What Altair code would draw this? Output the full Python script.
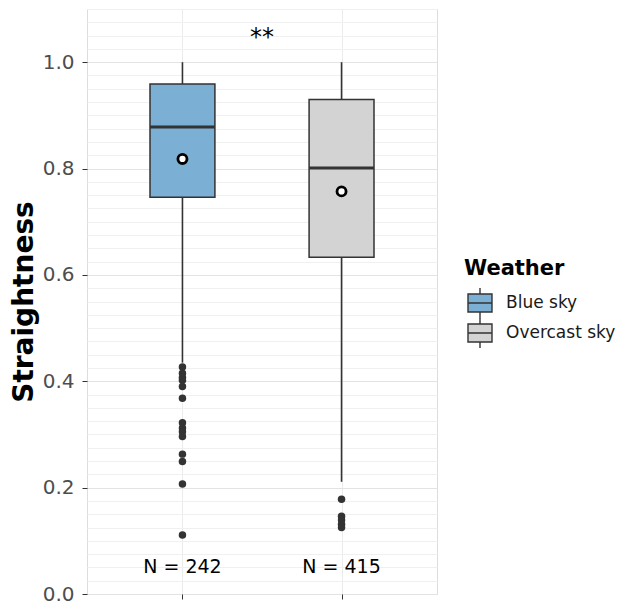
import altair as alt
import pandas as pd

# ---- data ----
weather = ["Blue sky", "Overcast sky"]
positions = [1, 2]
whisker_low = [0.435, 0.211]
q1 = [0.746, 0.633]
median = [0.878, 0.801]
q3 = [0.959, 0.930]
whisker_high = [1.0, 1.0]
means = [0.818, 0.757]
n_obs = [242, 415]
outliers_blue = [0.427, 0.415, 0.407, 0.402, 0.390, 0.368, 0.322, 0.312,
                 0.305, 0.296, 0.263, 0.249, 0.207, 0.111]
outliers_overcast = [0.178, 0.146, 0.139, 0.131, 0.125]
signif_label = "**"
y_ticks = [round(i * 0.025, 3) for i in range(0, 45)]
x_ticks = positions
colors = ["#7BAFD4", "#D3D3D3"]

FONT = "DejaVu Sans"
HALF = 0.204

stats = pd.DataFrame({
    "weather": weather, "pos": positions, "lo": whisker_low, "q1": q1,
    "median": median, "q3": q3, "hi": whisker_high, "mean": means,
    "label": [f"N = {n}" for n in n_obs],
})
out = pd.DataFrame({
    "pos": [positions[0]] * len(outliers_blue) + [positions[1]] * len(outliers_overcast),
    "value": outliers_blue + outliers_overcast,
})
sig = pd.DataFrame({"pos": [sum(positions) / 2], "y": [1.045], "label": [signif_label]})

major = "abs(datum.value * 5 - round(datum.value * 5)) < 0.001"

xscale = alt.Scale(domain=[0.4, 2.6], nice=False, zero=False)
yscale = alt.Scale(domain=[0, 1.1], nice=False, zero=False)

xaxis = alt.Axis(values=x_ticks, labels=False, title=None, domain=False,
                 tickSize=5, tickColor="#333333", tickWidth=1,
                 grid=True, gridColor="#EBEBEB", gridWidth=1)
yaxis = alt.Axis(values=y_ticks, title="Straightness", domain=False,
                 labelExpr=f"{major} ? format(datum.value, '.1f') : ''",
                 labelOverlap=False, labelFontSize=20, labelColor="#4D4D4D",
                 labelFont=FONT, labelPadding=8,
                 tickSize=5, tickColor="#333333", tickWidth=1,
                 tickOpacity={"condition": {"test": major, "value": 1}, "value": 0},
                 grid=True,
                 gridColor={"condition": {"test": major, "value": "#E3E3E3"}, "value": "#F0F0F0"},
                 gridWidth=1,
                 titleFontSize=28, titleFontWeight="bold", titleColor="#000000",
                 titleFont=FONT, titlePadding=4)


def X(field):
    return alt.X(field, scale=xscale, axis=xaxis)


def Y(field):
    return alt.Y(field, scale=yscale, axis=yaxis)


base = alt.Chart(stats)

whisk_hi = base.mark_rule(color="#333333", strokeWidth=1.6).encode(
    x=X("pos:Q"), y=Y("q3:Q"), y2="hi:Q",
)
whisk_lo = base.mark_rule(color="#333333", strokeWidth=1.6).encode(
    x=X("pos:Q"), y=Y("lo:Q"), y2="q1:Q",
)

legend_path = ("M-0.8,-0.6 L0.8,-0.6 L0.8,0.6 L-0.8,0.6 Z "
               "M-0.8,0 L0.8,0 M0,-0.6 L0,-1 M0,0.6 L0,1")

boxes = base.transform_calculate(
    x1=f"datum.pos - {HALF}", x2=f"datum.pos + {HALF}"
).mark_rect(stroke="#333333", strokeWidth=1.5).encode(
    x=X("x1:Q"), x2="x2:Q",
    y=Y("q1:Q"), y2="q3:Q",
    fill=alt.Fill("weather:N", scale=alt.Scale(domain=weather, range=colors),
                  legend=alt.Legend(title="Weather", orient="none",
                                    legendX=377, legendY=249,
                                    symbolType=legend_path, symbolSize=900,
                                    symbolStrokeColor="#333333", symbolStrokeWidth=1.4,
                                    titleFontSize=21, titleFontWeight="bold",
                                    titleColor="#000000", titleFont=FONT, titlePadding=9,
                                    labelFontSize=17, labelColor="#1A1A1A", labelFont=FONT,
                                    labelOffset=10, labelLimit=300, rowPadding=0,
                                    clipHeight=30)),
)

med = base.transform_calculate(
    x1=f"datum.pos - {HALF}", x2=f"datum.pos + {HALF}"
).mark_rule(color="#333333", strokeWidth=3).encode(
    x=X("x1:Q"), x2="x2:Q", y=Y("median:Q"),
)

outl = alt.Chart(out).mark_circle(color="#333333", opacity=1, size=56).encode(
    x=X("pos:Q"), y=Y("value:Q"),
)

mean_pt = base.mark_point(shape="circle", filled=True, fill="white", stroke="black",
                          strokeWidth=2.8, size=82, opacity=1).encode(
    x=X("pos:Q"), y=Y("mean:Q"),
)

nlab = base.transform_calculate(yl="0.05").mark_text(
    fontSize=19, font=FONT, color="#000000", baseline="middle").encode(
    x=X("pos:Q"), y=Y("yl:Q"), text="label:N",
)

sig_text = alt.Chart(sig).mark_text(fontSize=24, font=FONT, color="#000000",
                                    baseline="middle").encode(
    x=X("pos:Q"), y=Y("y:Q"), text="label:N",
)

chart = alt.layer(whisk_hi, whisk_lo, boxes, med, outl, mean_pt, nlab, sig_text).properties(
    width=350, height=585,
    autosize=alt.AutoSizeParams(type="none"),
    padding={"left": 79, "top": 1, "right": 180, "bottom": 12},
).configure_view(stroke="#595959", strokeWidth=1).configure(font=FONT)

chart.save("out.html", embed_options={"renderer": "svg", "actions": False})
